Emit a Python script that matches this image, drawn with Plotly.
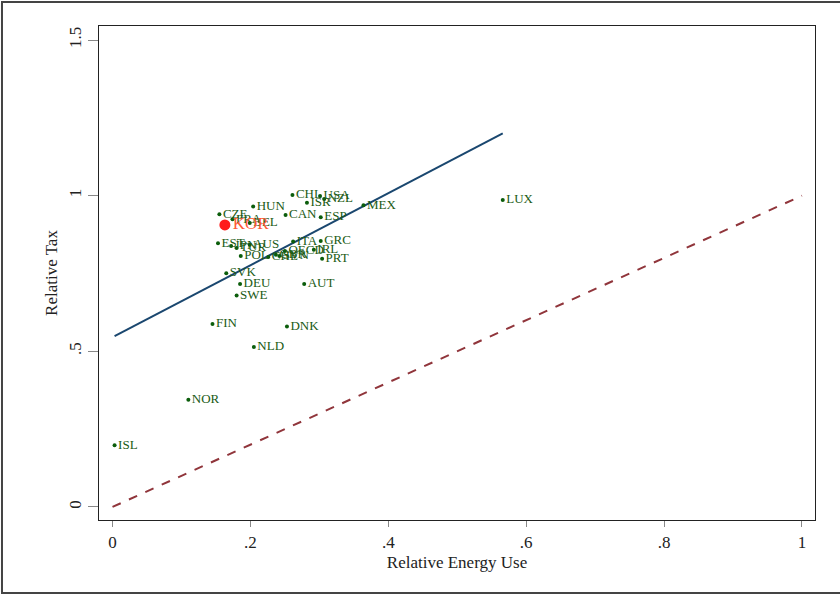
import plotly.graph_objects as go

# Country data: relative energy use (x) and relative tax (y)
countries = ["ISL", "NOR", "FIN", "NLD", "DNK", "SVK", "DEU", "SWE", "AUT", "MEX",
             "LUX", "CHL", "USA", "NZL", "ISR", "CAN", "ESP", "HUN", "CZE", "FRA",
             "BEL", "EST", "JPN", "TUR", "AUS", "POL", "CHE", "GBR", "SVN", "OECD",
             "ITA", "GRC", "IRL", "PRT"]
energy_use = [0.003, 0.110, 0.145, 0.205, 0.253, 0.165, 0.185, 0.180, 0.278, 0.364,
              0.566, 0.261, 0.301, 0.307, 0.282, 0.251, 0.302, 0.204, 0.155, 0.174,
              0.199, 0.153, 0.172, 0.180, 0.199, 0.186, 0.226, 0.237, 0.242, 0.250,
              0.262, 0.302, 0.292, 0.304]
rel_tax = [0.198, 0.344, 0.588, 0.514, 0.580, 0.751, 0.716, 0.679, 0.716, 0.969,
           0.986, 1.002, 0.999, 0.989, 0.977, 0.938, 0.931, 0.965, 0.940, 0.924,
           0.912, 0.847, 0.838, 0.832, 0.842, 0.806, 0.803, 0.810, 0.806, 0.822,
           0.853, 0.854, 0.826, 0.797]

kor_label = ["KOR"]
kor_energy = [0.163]
kor_tax = [0.906]

# Fitted line and 45-degree reference line
fit_intercept = 0.545
fit_slope = 1.157
ref_x = [0, 1]
ref_y = [0, 1]

x_tickvals = [0, 0.2, 0.4, 0.6, 0.8, 1]
x_ticktext = ["0", ".2", ".4", ".6", ".8", "1"]
y_tickvals = [0, 0.5, 1, 1.5]
y_ticktext = ["0", ".5", "1", "1.5"]

serif = "Liberation Serif, Times New Roman, serif"

fit_x = [min(energy_use), max(energy_use)]
fit_y = [fit_intercept + fit_slope * v for v in fit_x]

fig = go.Figure()
fig.add_trace(go.Scatter(x=ref_x, y=ref_y, mode="lines",
                         line=dict(color="#90353B", width=2, dash="dash"),
                         showlegend=False, hoverinfo="skip"))
fig.add_trace(go.Scatter(x=fit_x, y=fit_y, mode="lines",
                         line=dict(color="#1A476F", width=2),
                         showlegend=False, hoverinfo="skip"))
fig.add_trace(go.Scatter(x=energy_use, y=rel_tax, mode="markers+text",
                         text=countries, textposition="middle right",
                         marker=dict(color="#0B5D0B", size=4),
                         textfont=dict(family=serif, size=13, color="#1A5A14"),
                         showlegend=False))
fig.add_trace(go.Scatter(x=kor_energy, y=kor_tax, mode="markers+text",
                         text=kor_label, textposition="middle right",
                         marker=dict(color="#FF1A1A", size=11),
                         textfont=dict(family=serif, size=17, color="#FF5A36"),
                         showlegend=False))

fig.update_layout(
    width=840, height=595,
    margin=dict(l=99, r=25, t=26, b=75),
    paper_bgcolor="white", plot_bgcolor="white",
    font=dict(family=serif, color="#222222"),
    xaxis=dict(range=[-0.0196, 1.0189], tickvals=x_tickvals, ticktext=x_ticktext,
               showgrid=False, zeroline=False, showline=True, linecolor="#222222",
               linewidth=1.2, mirror=True, ticks="outside", ticklen=6,
               tickcolor="#888888", tickfont=dict(size=17, family=serif, color="#222222"),
               title=dict(text="Relative Energy Use", font=dict(size=17, family=serif),
                          standoff=5)),
    yaxis=dict(range=[-0.042, 1.545], tickvals=y_tickvals, ticktext=y_ticktext,
               showgrid=False, zeroline=False, showline=True, linecolor="#222222",
               linewidth=1.2, mirror=True, ticks="outside", ticklen=10,
               tickcolor="#888888", tickangle=-90,
               tickfont=dict(size=17, family=serif, color="#222222"),
               title=dict(text="Relative Tax", font=dict(size=17, family=serif),
                          standoff=4)),
    shapes=[dict(type="rect", xref="paper", yref="paper",
                 x0=-0.1355, x1=1.04, y0=-0.1478, y1=1.0486,
                 line=dict(color="#444444", width=2), layer="below")],
)

fig.write_html("out.html", config={"displayModeBar": False},
               post_script="document.body.style.margin='0px';")
